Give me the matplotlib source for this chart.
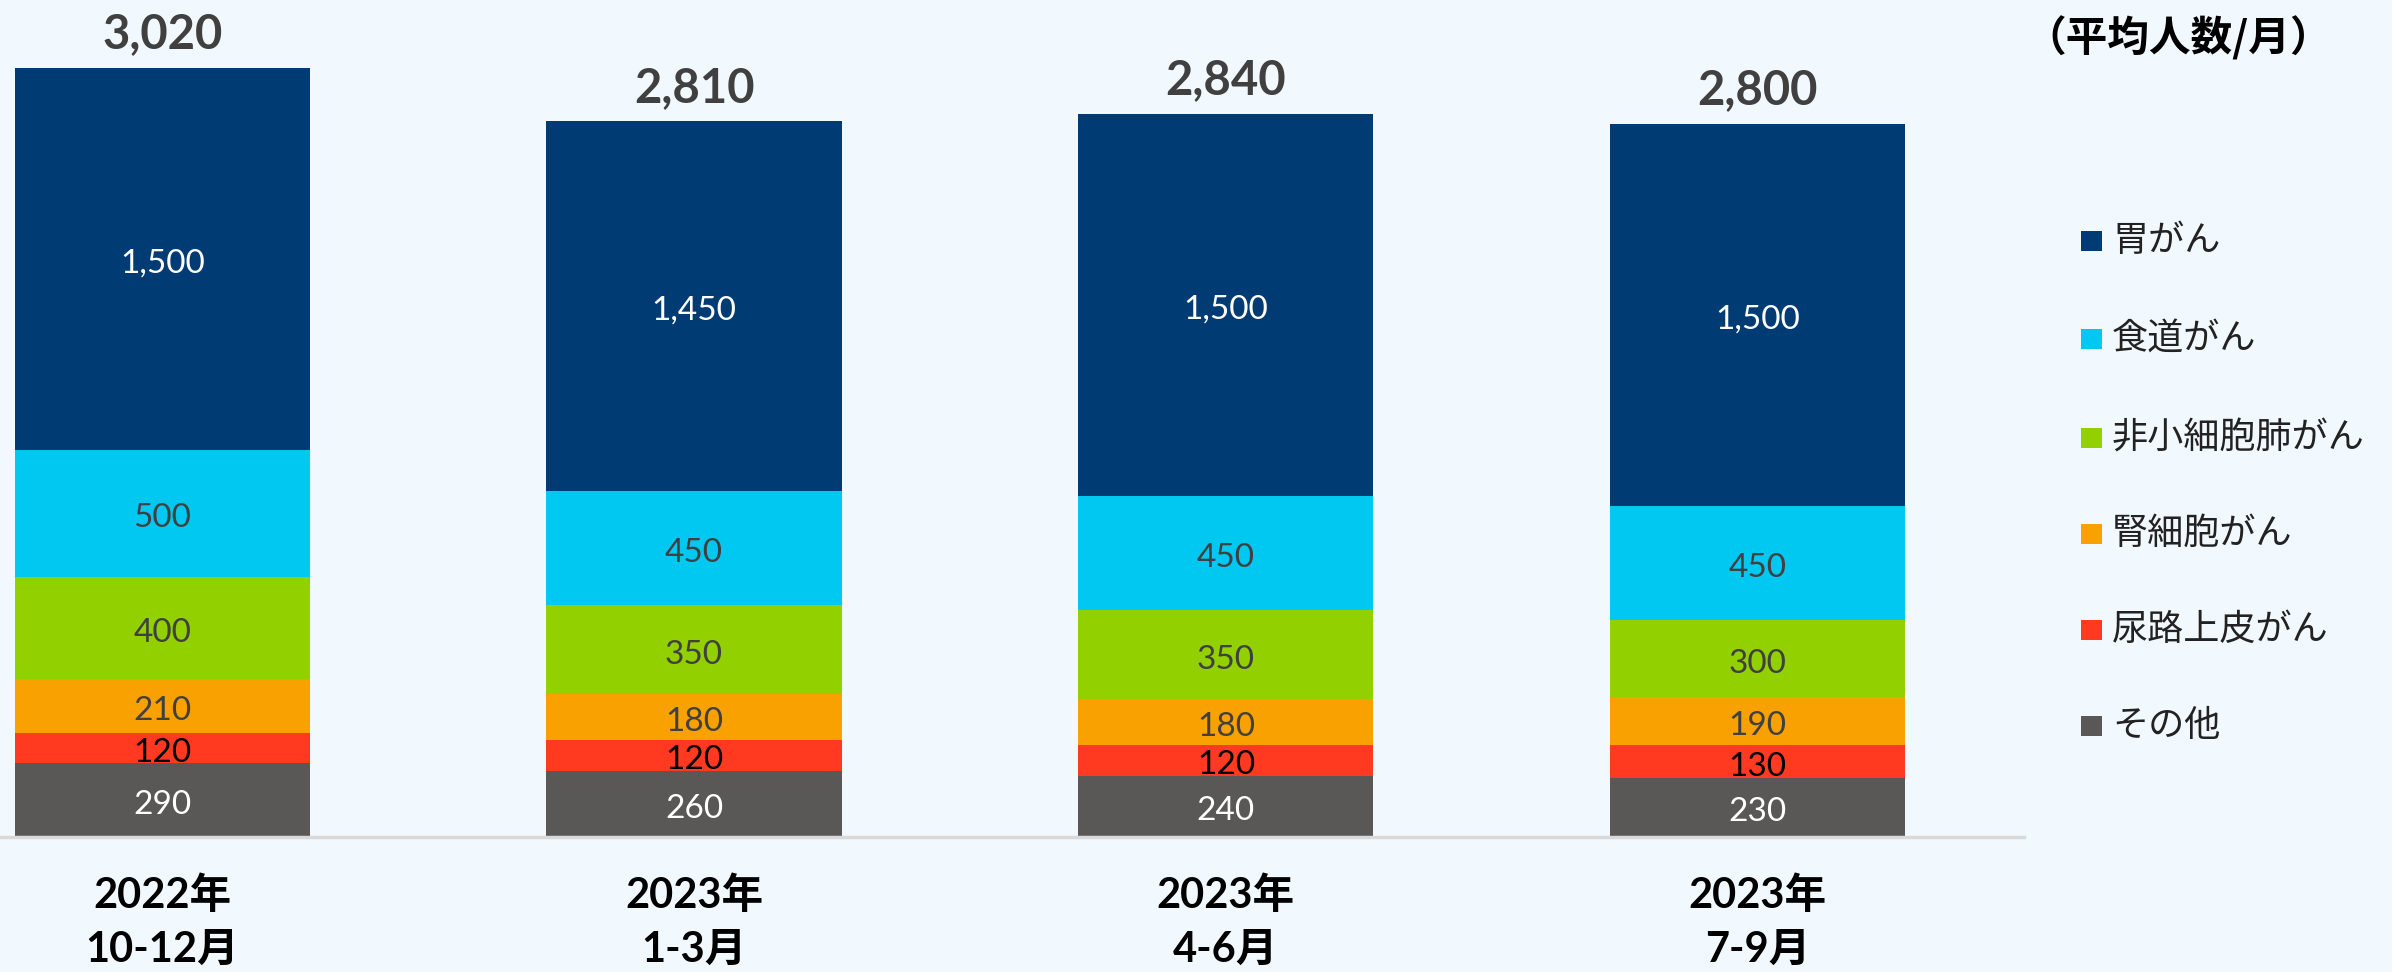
import matplotlib.pyplot as plt
from matplotlib.patches import Rectangle
import numpy as np

plt.rcParams['font.family'] = ['Lato', 'Noto Sans CJK JP', 'DejaVu Sans']

# データ
periods = ['2022年\n10-12月', '2023年\n1-3月', '2023年\n4-6月', '2023年\n7-9月']
# 下から積み上げる順
series_names = ['その他', '尿路上皮がん', '腎細胞がん', '非小細胞肺がん', '食道がん', '胃がん']
others = [290, 260, 240, 230]
urothelial = [120, 120, 120, 130]
renal = [210, 180, 180, 190]
nsclc = [400, 350, 350, 300]
esophageal = [500, 450, 450, 450]
gastric = [1500, 1450, 1500, 1500]
unit_label = '（平均人数/月）'

series_values = [others, urothelial, renal, nsclc, esophageal, gastric]
colors = ['#5A5856', '#FF3A20', '#F8A100', '#92D000', '#00C8F0', '#003B74']
text_colors = ['white', 'black', '#404040', '#404040', '#404040', 'white']

bg = '#F2F9FE'
fig = plt.figure(figsize=(23.92, 9.72), dpi=100)
fig.patch.set_facecolor(bg)
ax = fig.add_axes([0, 0.139, 0.846, 0.861])
ax.set_facecolor(bg)

x = np.arange(len(periods))
bottom = np.zeros(len(periods))
for vals, col, tcol in zip(series_values, colors, text_colors):
    vals = np.array(vals, dtype=float)
    ax.bar(x, vals, width=0.555, bottom=bottom, color=col, edgecolor='none', zorder=2)
    for xi, b, v in zip(x, bottom, vals):
        ax.annotate(f'{int(v):,}', xy=(xi, b + v / 2), xytext=(0, -3.5),
                    textcoords='offset points', ha='center', va='center',
                    fontsize=24, color=tcol, zorder=3)
    bottom += vals

# 合計
for xi, tot in zip(x, bottom):
    ax.annotate(f'{int(tot):,}', xy=(xi, tot), xytext=(0, 14), textcoords='offset points',
                ha='center', va='baseline', fontsize=34, fontweight='bold', color='#404040')

ax.set_xlim(-0.305, 3.5)
ax.set_ylim(0, 3287)
ax.set_yticks([])
ax.set_xticks(x)
ax.set_xticklabels(periods, fontsize=30, fontweight='bold', color='black', linespacing=1.5)
ax.tick_params(axis='x', length=0, pad=28)
for s in ['top', 'right', 'left']:
    ax.spines[s].set_visible(False)
ax.spines['bottom'].set_color('#D9D9D9')
ax.spines['bottom'].set_linewidth(2.5)

# 凡例（上から胃がん）
fig.text(2024 / 2392, 1 - 38 / 972, unit_label, fontsize=30, fontweight='bold',
         color='black', ha='left', va='center', family=['Noto Sans CJK JP'])
leg_y = [241, 339, 438, 534, 630, 726]
for name, col, yy in zip(series_names[::-1], colors[::-1], leg_y):
    fy = 1 - yy / 972
    fig.patches.append(Rectangle((2081 / 2392, fy - 10 / 972), 21 / 2392, 20 / 972,
                                 transform=fig.transFigure, facecolor=col, edgecolor='none'))
    fig.text(2112 / 2392, fy, name, fontsize=26, color='#222222', ha='left', va='center',
             family=['Noto Sans CJK JP'])

fig.savefig('out.png', dpi=100, facecolor=bg)
